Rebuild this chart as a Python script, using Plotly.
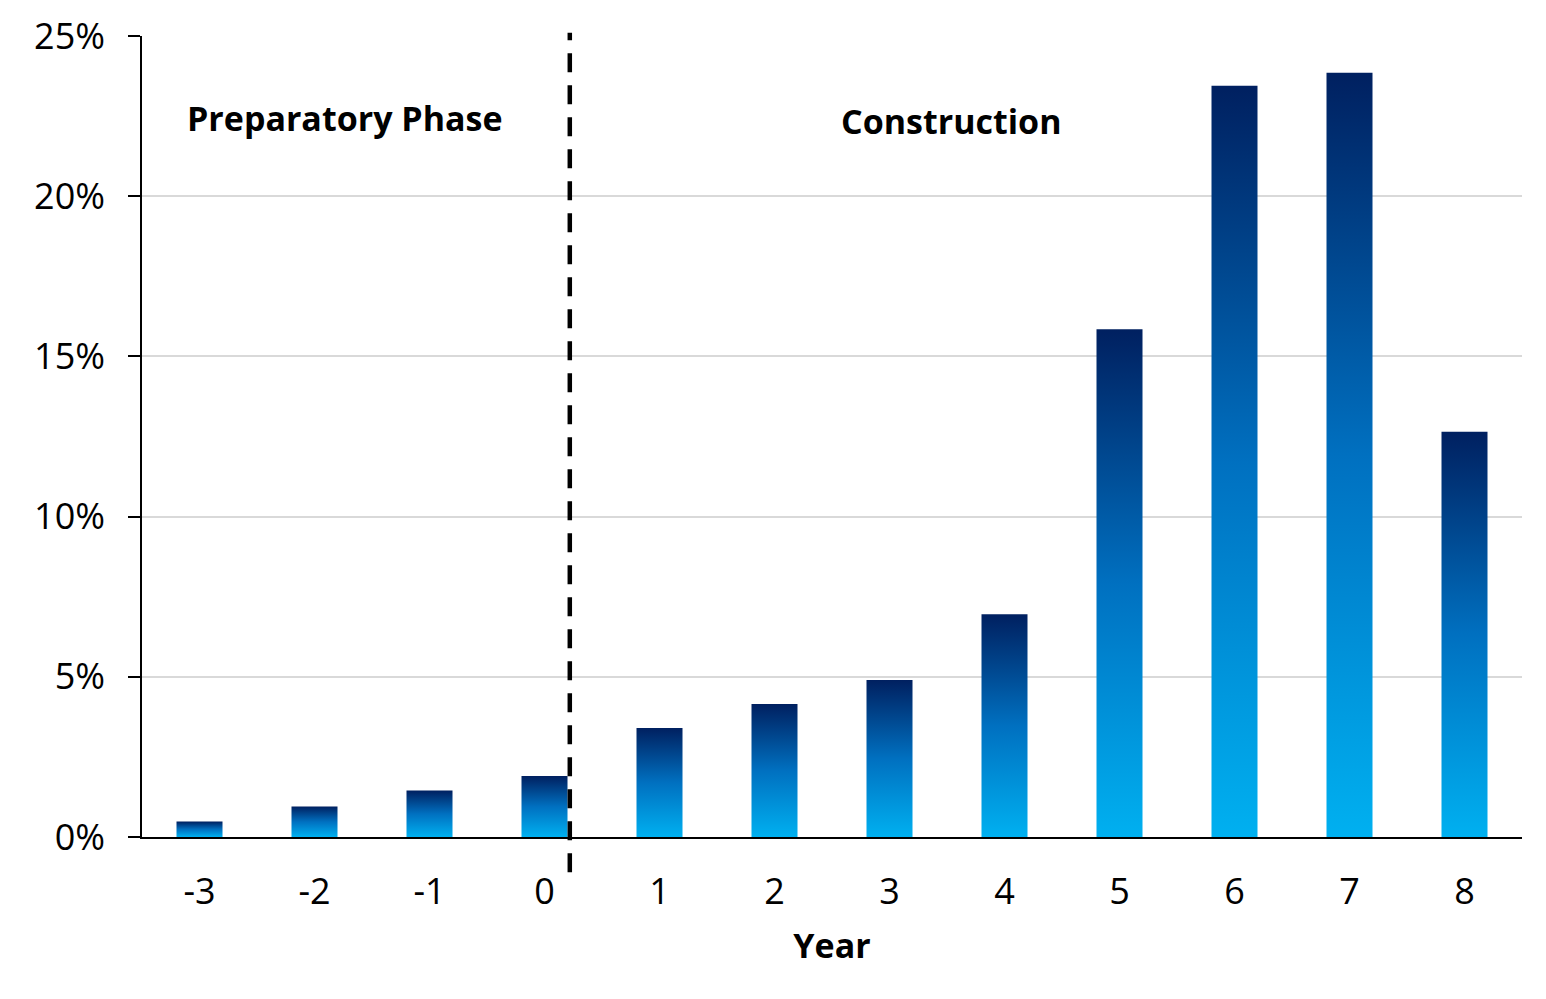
import plotly.graph_objects as go

years = [-3, -2, -1, 0, 1, 2, 3, 4, 5, 6, 7, 8]
shares = [0.48, 0.95, 1.45, 1.9, 3.4, 4.15, 4.9, 6.95, 15.85, 23.45, 23.85, 12.65]
y_ticks = [0, 5, 10, 15, 20, 25]
phase_labels = ["Preparatory Phase", "Construction"]
phase_x = [-1.735, 3.535]
phase_y = [22.45, 22.35]
divider_x = 0.22

BAR_W = 0.4
FONT = "Open Sans"
gradient = [[0.0, "#00b0f0"], [0.5, "#0070c0"], [1.0, "#002060"]]

fig = go.Figure()
for yr, v in zip(years, shares):
    x0, x1 = yr - BAR_W / 2, yr + BAR_W / 2
    fig.add_trace(go.Scatter(
        x=[x0, x1, x1, x0, x0],
        y=[0, 0, v, v, 0],
        mode="lines",
        line=dict(width=0),
        fill="toself",
        fillgradient=dict(type="vertical", colorscale=gradient),
        hoverinfo="skip",
        showlegend=False,
    ))

fig.add_shape(type="line", xref="x", yref="paper",
              x0=divider_x, x1=divider_x, y0=-0.044, y1=1.004,
              line=dict(color="black", width=4.5, dash="19px,13px"))

for txt, ax, ay in zip(phase_labels, phase_x, phase_y):
    fig.add_annotation(x=ax, y=ay, text=f"<b>{txt}</b>", showarrow=False,
                       font=dict(family=FONT, size=34, color="black"))

fig.update_layout(
    width=1546, height=999,
    margin=dict(l=142, r=24, t=36, b=162),
    plot_bgcolor="white", paper_bgcolor="white",
    font=dict(family=FONT, color="black"),
)
fig.update_xaxes(
    range=[-3.5, 8.5], tickvals=years, ticktext=[str(y) for y in years],
    showgrid=False, zeroline=False,
    showline=True, linecolor="black", linewidth=2,
    ticks="", tickfont=dict(size=36, family=FONT),
    ticklabelstandoff=22,
    title=dict(text="<b>Year</b>", font=dict(size=34, family=FONT), standoff=20),
)
fig.update_yaxes(
    range=[0, 25], tickvals=y_ticks, ticktext=[f"{t}%" for t in y_ticks],
    showgrid=True, gridcolor="#d9d9d9", gridwidth=1.5, zeroline=False,
    showline=True, linecolor="black", linewidth=1.5,
    ticks="outside", ticklen=12, tickcolor="black", tickwidth=1.5,
    tickfont=dict(size=36, family=FONT),
    ticklabelstandoff=16,
)

fig.write_html("out.html")
